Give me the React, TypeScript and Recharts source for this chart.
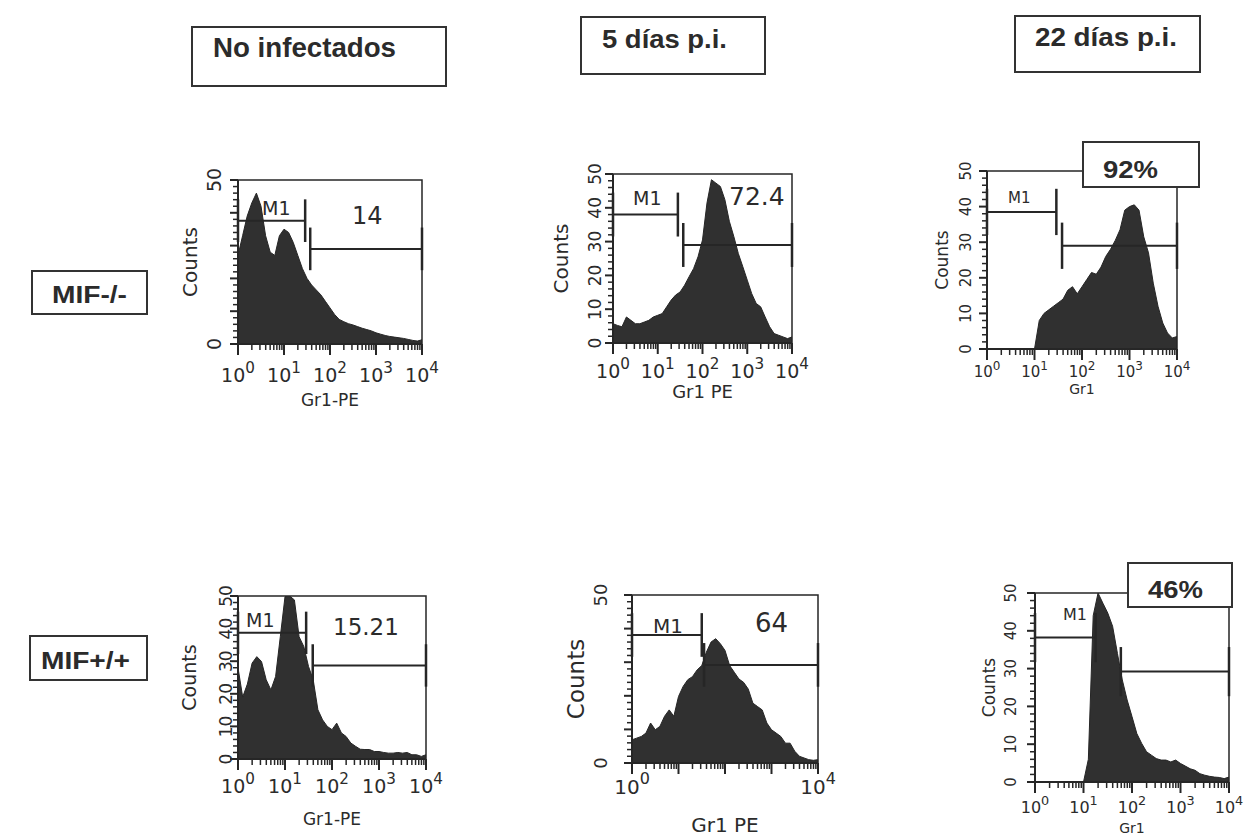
import React from 'react';
import { ComposedChart, Area, XAxis, YAxis, ReferenceLine, ReferenceArea } from 'recharts';

// log10(Gr1 fluorescence), one reading every 0.1 decade from 10^0 to 10^4
const logGr1 = [
  0, 0.1, 0.2, 0.3, 0.4, 0.5, 0.6, 0.7, 0.8, 0.9,
  1, 1.1, 1.2, 1.3, 1.4, 1.5, 1.6, 1.7, 1.8, 1.9,
  2, 2.1, 2.2, 2.3, 2.4, 2.5, 2.6, 2.7, 2.8, 2.9,
  3, 3.1, 3.2, 3.3, 3.4, 3.5, 3.6, 3.7, 3.8, 3.9, 4,
];

// MIF-/-
const countsKoUninf = [
  27, 33, 39, 43, 46, 42, 33, 28, 27, 33,
  35, 34, 31, 27, 23, 20, 18, 16.5, 15, 13,
  11, 9, 7.5, 6.8, 6.2, 5.8, 5.3, 4.8, 4.4, 4,
  3.4, 3, 2.6, 2.3, 2.1, 1.9, 1.7, 1.4, 1.1, 0.9, 1.3,
];
const countsKo5d = [
  5.7, 5.2, 4.8, 7.7, 6.7, 5.7, 5.7, 6.2, 6.7, 7.7,
  8.2, 8.7, 10.7, 12.7, 14.2, 15.1, 17.1, 19.6, 22, 25.5,
  30.5, 41.4, 48.3, 47.3, 46.3, 42.4, 36, 31.5, 26.5, 22.6,
  18.6, 14.6, 11.7, 10.7, 7.7, 4.8, 2.8, 2.3, 1.8, 1.3, 1.8,
];
const countsKo22d = [
  0, 0, 0, 0, 0, 0, 0, 0, 0, 0,
  0, 8, 10, 11, 12, 13, 14, 16.5, 17.5, 15.5,
  17.5, 19.5, 21.5, 21, 23, 26, 28, 30.5, 33.5, 39,
  40, 40.5, 39, 31.5, 27, 18.5, 12, 7.3, 4.5, 3.1, 3.5,
];

// MIF+/+
const countsWtUninf = [
  28, 19, 23, 29.4, 31.4, 29.9, 24.3, 21.2, 25.3, 37.5,
  49.8, 50, 48.8, 37.5, 34.5, 28.4, 24.3, 15.1, 12, 10,
  9, 11, 8, 6.9, 4.9, 3.9, 3, 2.9, 2.9, 2.3,
  2.3, 2, 1.8, 1.8, 2, 1.8, 2, 1.3, 1.3, 0.8, 1.3,
];
const countsWt5d = [
  6.9, 7.4, 7.9, 8.9, 11.9, 9.9, 10.9, 13.9, 15.8, 13.9,
  19.8, 22.8, 24.8, 25.7, 27.7, 29, 33, 36, 37, 35.5,
  33.5, 29, 27, 25, 24, 22, 17.8, 16.8, 15.8, 11.9,
  9.9, 8.9, 7.9, 5.9, 5.9, 3.5, 2, 1.5, 1, 0.8, 1,
];
const countsWt22d = [
  0, 0, 0, 0, 0, 0, 0, 0, 0, 0,
  0, 6, 44, 50, 47.3, 44.7, 41.2, 34, 27, 21.7,
  17.3, 12.8, 10.2, 8, 7.1, 6.2, 5.8, 5.8, 5.3, 5.8,
  4.9, 4.2, 3.5, 3.1, 2.2, 1.8, 1.5, 1.3, 1.2, 0.9, 1.3,
];

// M1 gate and positive gate, in log10 units and counts
const gatesKoUninf = [{ from: 0, to: 1.46, level: 37.6 }, { from: 1.57, to: 4, level: 29 }];
const gatesKo5d = [{ from: 0, to: 1.45, level: 38 }, { from: 1.57, to: 4, level: 29 }];
const gatesKo22d = [{ from: 0, to: 1.46, level: 38.5 }, { from: 1.58, to: 4, level: 29 }];
const gatesWtUninf = [{ from: 0, to: 1.45, level: 38.7 }, { from: 1.59, to: 4, level: 28.7 }];
const gatesWt5d = [{ from: 0, to: 1.5, level: 38.1 }, { from: 1.55, to: 4, level: 29.2 }];
const gatesWt22d = [{ from: 0, to: 1.25, level: 38.2 }, { from: 1.77, to: 4, level: 29.2 }];

const decades = [0, 1, 2, 3, 4];
const minorFactors = [2, 3, 4, 5, 6, 7, 8, 9];
const countTicks = [0, 10, 20, 30, 40, 50];
const countEnds = [0, 50];
const countStep = 2;

const columnTitles = ['No infectados', '5 días p.i.', '22 días p.i.'];
const rowTitles = ['MIF-/-', 'MIF+/+'];
const gateNames = ['M1', 'M1', 'M1', 'M1', 'M1', 'M1'];
const gateValues = ['14', '72.4', '92%', '15.21', '64', '46%'];
const xTitles = ['Gr1-PE', 'Gr1 PE', 'Gr1', 'Gr1-PE', 'Gr1 PE', 'Gr1'];

const INK = '#262626';
const FILL = '#303030';
const TEXT = '#2b2b2b';
const PLOT_FONT = '"DejaVu Sans", Verdana, sans-serif';
const TITLE_FONT = '"Liberation Sans", Arial, Helvetica, sans-serif';

const ML = 70;
const MT = 20;
const MR = 20;
const MB = 80;

const minorX = decades.slice(0, -1).flatMap((d) => minorFactors.map((f) => d + Math.log10(f)));
const xTickValues = [...decades, ...minorX].sort((a, b) => a - b);
const yTickValues = Array.from({ length: 50 / countStep + 1 }, (_, i) => i * countStep);

const panels = [
  {
    counts: countsKoUninf, gates: gatesKoUninf, yLabels: countEnds, xLabels: decades,
    left: 238, right: 422, top: 180, bottom: 344,
    yOff: 24, yFs: 19, cOff: 48, cFs: 20, xDy: 38, xFs: 19, tDy: 62, tFs: 17,
    m1: { x: 262, y: 215, fs: 19 }, val: { x: 352, y: 224, fs: 24 },
  },
  {
    counts: countsKo5d, gates: gatesKo5d, yLabels: countTicks, xLabels: decades,
    left: 613, right: 792, top: 174, bottom: 343,
    yOff: 18, yFs: 17, cOff: 52, cFs: 20, xDy: 35, xFs: 19, tDy: 55, tFs: 18,
    m1: { x: 633, y: 205, fs: 19 }, val: { x: 729, y: 205, fs: 25 },
  },
  {
    counts: countsKo22d, gates: gatesKo22d, yLabels: countTicks, xLabels: decades,
    left: 987, right: 1177, top: 171, bottom: 349,
    yOff: 21, yFs: 15, cOff: 45, cFs: 17, xDy: 28, xFs: 15, tDy: 45, tFs: 14,
    m1: { x: 1008, y: 203, fs: 15 }, box: { x: 1083, y: 142, w: 116, h: 45, tx: 1103, ty: 178, tl: 55, fs: 23 },
  },
  {
    counts: countsWtUninf, gates: gatesWtUninf, yLabels: countTicks, xLabels: decades,
    left: 238, right: 426, top: 596, bottom: 759,
    yOff: 12, yFs: 17, cOff: 49, cFs: 19, xDy: 34, xFs: 19, tDy: 66, tFs: 17,
    m1: { x: 246, y: 627, fs: 19 }, val: { x: 333, y: 635, fs: 23 },
  },
  {
    counts: countsWt5d, gates: gatesWt5d, yLabels: countEnds, xLabels: [0, 4],
    left: 632, right: 818, top: 595, bottom: 763,
    yOff: 32, yFs: 18, cOff: 56, cFs: 23, xDy: 31, xFs: 20, tDy: 69, tFs: 20,
    m1: { x: 653, y: 633, fs: 20 }, val: { x: 755, y: 632, fs: 26 },
  },
  {
    counts: countsWt22d, gates: gatesWt22d, yLabels: countTicks, xLabels: decades,
    left: 1035, right: 1229, top: 593, bottom: 782,
    yOff: 24, yFs: 15, cOff: 46, cFs: 17, xDy: 31, xFs: 16, tDy: 51, tFs: 14,
    m1: { x: 1063, y: 620, fs: 16 }, box: { x: 1128, y: 563, w: 104, h: 44, tx: 1148, ty: 598, tl: 55, fs: 23 },
  },
];

const titleBoxes = [
  { x: 192, y: 27, w: 254, h: 59, tx: 213, ty: 57, tl: 183, fs: 27 },
  { x: 581, y: 17, w: 184, h: 57, tx: 602, ty: 48, tl: 125, fs: 26 },
  { x: 1015, y: 16, w: 185, h: 56, tx: 1035, ty: 46, tl: 142, fs: 26 },
];
const rowBoxes = [
  { x: 32, y: 271, w: 115, h: 43, tx: 52, ty: 303, tl: 75, fs: 23 },
  { x: 30, y: 636, w: 117, h: 44, tx: 41, ty: 669, tl: 89, fs: 23 },
];

const isDecade = (v: number) => Math.abs(v - Math.round(v)) < 1e-6;

function Histogram({ p }: { p: any }) {
  const w = p.right - p.left;
  const h = p.bottom - p.top;
  const data = logGr1.map((x, i) => ({ x, c: p.counts[i] }));

  const renderX = (props: any) => {
    const { x, y, payload } = props;
    const v = payload.value;
    const major = isDecade(v);
    const showLabel = major && p.xLabels.some((d: number) => Math.abs(d - v) < 1e-6);
    return (
      <g>
        <line x1={x} x2={x} y1={y} y2={y + (major ? 11 : 6)} stroke={INK} strokeWidth={major ? 2 : 1.5} />
        {showLabel && (
          <text x={x} y={y + p.xDy} textAnchor="middle" fontFamily={PLOT_FONT} fontSize={p.xFs} fill={TEXT}>
            10
            <tspan dy={-p.xFs * 0.5} fontSize={p.xFs * 0.8}>
              {Math.round(v)}
            </tspan>
          </text>
        )}
      </g>
    );
  };

  const renderY = (props: any) => {
    const { x, y, payload } = props;
    const v = payload.value;
    const major = v % 10 === 0;
    const showLabel = p.yLabels.includes(v);
    const lx = x - p.yOff;
    return (
      <g>
        <line x1={x} x2={x - (major ? 8 : 5)} y1={y} y2={y} stroke={INK} strokeWidth={major ? 2 : 1.5} />
        {showLabel && (
          <text
            x={lx}
            y={y}
            transform={`rotate(-90, ${lx}, ${y})`}
            textAnchor="middle"
            dominantBaseline="central"
            fontFamily={PLOT_FONT}
            fontSize={p.yFs}
            fill={TEXT}
          >
            {v}
          </text>
        )}
      </g>
    );
  };

  const barHalf = 6.5;

  return (
    <div style={{ position: 'absolute', left: p.left - ML, top: p.top - MT }}>
      <ComposedChart width={w + ML + MR} height={h + MT + MB} data={data} margin={{ top: MT, right: MR, left: 0, bottom: 0 }}>
        <XAxis
          dataKey="x"
          type="number"
          domain={[0, 4]}
          ticks={xTickValues}
          interval={0}
          tickSize={0}
          tickMargin={0}
          tickLine={false}
          axisLine={{ stroke: INK, strokeWidth: 2 }}
          height={MB}
          tick={renderX}
          allowDataOverflow
        />
        <YAxis
          type="number"
          domain={[0, 50]}
          ticks={yTickValues}
          interval={0}
          tickSize={0}
          tickMargin={0}
          tickLine={false}
          axisLine={{ stroke: INK, strokeWidth: 2 }}
          width={ML}
          tick={renderY}
          allowDataOverflow
        />
        <Area
          type="linear"
          dataKey="c"
          stroke={INK}
          strokeWidth={1}
          fill={FILL}
          fillOpacity={1}
          isAnimationActive={false}
          dot={false}
          activeDot={false}
        />
        <ReferenceArea x1={0} x2={4} y1={0} y2={50} fill="none" stroke={INK} strokeWidth={1.5} ifOverflow="visible" />
        {p.gates.flatMap((g: any, i: number) => [
          <ReferenceLine
            key={`h${i}`}
            segment={[{ x: g.from, y: g.level }, { x: g.to, y: g.level }]}
            stroke={INK}
            strokeWidth={2}
            ifOverflow="visible"
          />,
          <ReferenceLine
            key={`a${i}`}
            segment={[{ x: g.from, y: g.level - barHalf }, { x: g.from, y: g.level + barHalf }]}
            stroke={INK}
            strokeWidth={2.5}
            ifOverflow="visible"
          />,
          <ReferenceLine
            key={`b${i}`}
            segment={[{ x: g.to, y: g.level - barHalf }, { x: g.to, y: g.level + barHalf }]}
            stroke={INK}
            strokeWidth={2.5}
            ifOverflow="visible"
          />,
        ])}
      </ComposedChart>
    </div>
  );
}

function BoxLabel({ b, text }: { b: any; text: string }) {
  return (
    <g>
      <rect x={b.x} y={b.y} width={b.w} height={b.h} fill="#fff" stroke="#333" strokeWidth={2} />
      <text
        x={b.tx}
        y={b.ty}
        textLength={b.tl}
        lengthAdjust="spacingAndGlyphs"
        fontFamily={TITLE_FONT}
        fontWeight="bold"
        fontSize={b.fs || 22}
        fill={TEXT}
      >
        {text}
      </text>
    </g>
  );
}

export default function App() {
  return (
    <div style={{ position: 'absolute', left: 0, top: 0, width: 1245, height: 838, background: '#fff', overflow: 'hidden' }}>
      {panels.map((p, i) => (
        <Histogram key={i} p={p} />
      ))}
      <svg width={1245} height={838} style={{ position: 'absolute', left: 0, top: 0, pointerEvents: 'none' }}>
        {titleBoxes.map((b, i) => (
          <BoxLabel key={`t${i}`} b={b} text={columnTitles[i]} />
        ))}
        {rowBoxes.map((b, i) => (
          <BoxLabel key={`r${i}`} b={b} text={rowTitles[i]} />
        ))}
        {panels.map((p, i) => {
          const cy = (p.top + p.bottom) / 2;
          const cx = p.left - p.cOff;
          return (
            <g key={`p${i}`} fontFamily={PLOT_FONT} fill={TEXT}>
              <text x={cx} y={cy} transform={`rotate(-90, ${cx}, ${cy})`} textAnchor="middle" dominantBaseline="central" fontSize={p.cFs}>
                Counts
              </text>
              <text x={(p.left + p.right) / 2} y={p.bottom + p.tDy} textAnchor="middle" fontSize={p.tFs}>
                {xTitles[i]}
              </text>
              <text x={p.m1.x} y={p.m1.y} fontSize={p.m1.fs}>
                {gateNames[i]}
              </text>
              {p.val && (
                <text x={p.val.x} y={p.val.y} fontSize={p.val.fs}>
                  {gateValues[i]}
                </text>
              )}
              {p.box && <BoxLabel b={p.box} text={gateValues[i]} />}
            </g>
          );
        })}
      </svg>
    </div>
  );
}
